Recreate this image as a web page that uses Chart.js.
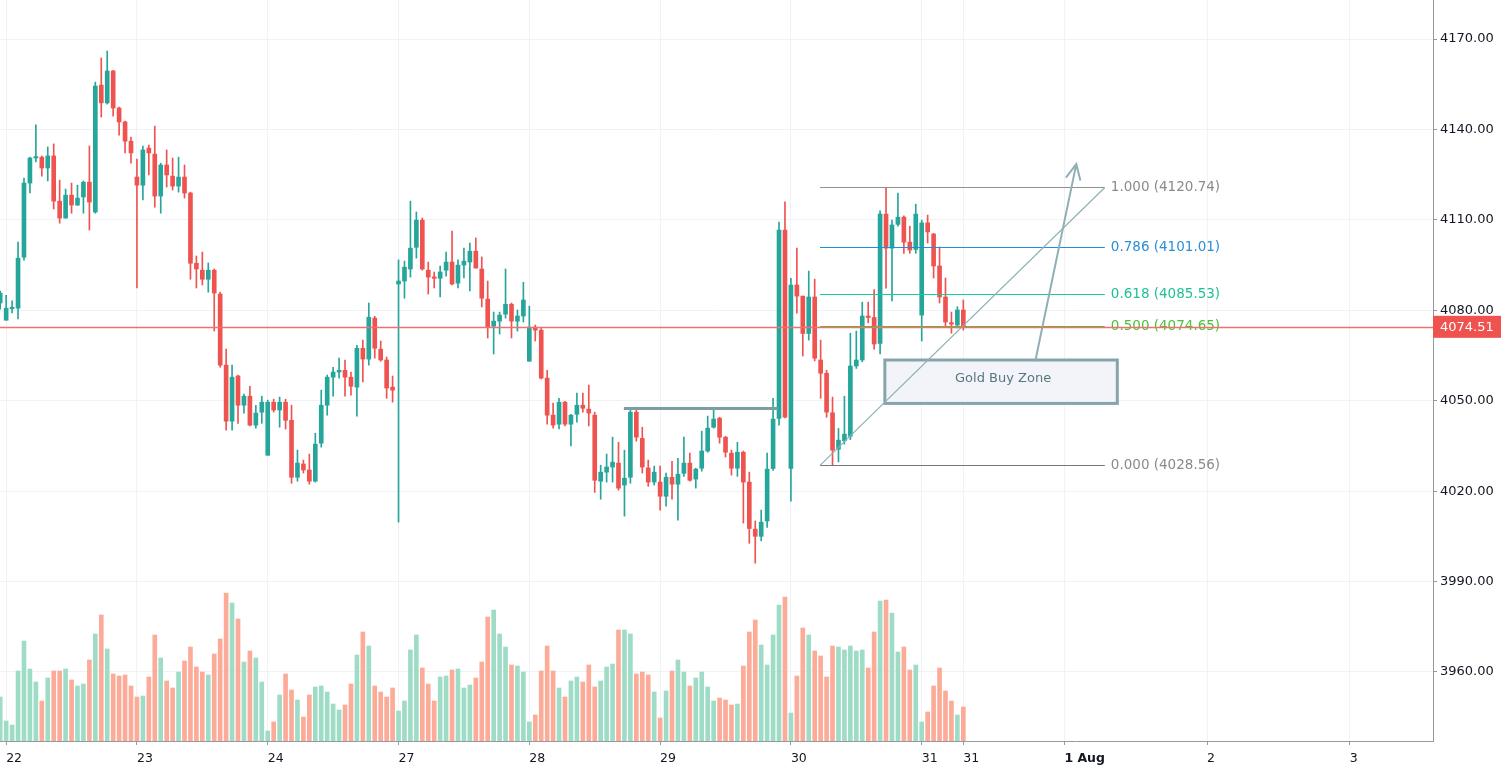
<!DOCTYPE html>
<html>
<head>
<meta charset="utf-8">
<title>Gold 1h</title>
<script src="https://cdn.jsdelivr.net/npm/chart.js@4.4.2/dist/chart.umd.min.js"></script>
<style>
  html, body { margin: 0; padding: 0; background: #ffffff; }
  #wrap { width: 1502px; height: 771px; position: relative; }
</style>
</head>
<body>
<div id="wrap"><canvas id="chart"></canvas></div>
<script>
// hourly candles, one per bar index
const opens = [
  4082.4, 4076.7, 4080.5, 4080.7, 4097.6, 4122.2, 4130.5, 4130.8, 4127.2, 4131.2,
  4116.2, 4110.6, 4118.2, 4114.9, 4117.6, 4122.5, 4112.6, 4154.7, 4148.8, 4159.4,
  4147.1, 4142.5, 4136.1, 4124.2, 4121.5, 4133.8, 4131.8, 4117.9, 4128.2, 4124.5,
  4121.2, 4124.2, 4118.9, 4095.6, 4093.3, 4090.3, 4093.3, 4085.4, 4061.8, 4043.2,
  4058.2, 4048.5, 4051.5, 4041.9, 4046.2, 4031.9, 4049.5, 4046.9, 4049.5, 4043.5,
  4024.6, 4029.0, 4027.0, 4023.3, 4035.9, 4048.5, 4057.8, 4059.5, 4060.1, 4057.8,
  4054.5, 4067.4, 4063.8, 4077.4, 4067.1, 4063.5, 4054.5, 4088.7, 4089.7, 4093.7,
  4100.9, 4109.9, 4093.3, 4091.0, 4090.6, 4093.3, 4096.0, 4089.0, 4095.0, 4096.0,
  4099.6, 4093.7, 4083.7, 4074.7, 4076.4, 4078.7, 4082.0, 4076.4, 4078.1, 4063.1,
  4074.4, 4073.4, 4057.5, 4045.2, 4042.2, 4049.5, 4042.2, 4045.5, 4048.5, 4047.2,
  4045.2, 4023.3, 4026.3, 4028.0, 4029.3, 4022.0, 4024.6, 4046.2, 4037.5, 4027.7,
  4023.0, 4023.0, 4018.3, 4024.6, 4022.3, 4025.9, 4029.3, 4024.0, 4027.6, 4033.3,
  4041.2, 4044.2, 4037.9, 4032.6, 4027.6, 4032.9, 4023.0, 4007.4, 4005.0, 4010.1,
  4027.5, 4044.1, 4106.6, 4027.5, 4088.4, 4084.7, 4072.3, 4084.4, 4063.5, 4059.1,
  4046.0, 4033.9, 4036.7, 4038.2, 4061.5, 4063.5, 4078.1, 4077.6, 4069.0, 4111.9,
  4100.6, 4108.5, 4110.9, 4102.6, 4100.2, 4078.4, 4109.0, 4105.3, 4094.7, 4084.4,
  4075.9, 4075.1, 4080.1
];
const highs = [
  4086.4, 4085.0, 4083.1, 4102.6, 4123.9, 4130.8, 4141.5, 4131.2, 4134.2, 4135.2,
  4123.2, 4120.2, 4122.2, 4121.5, 4122.9, 4134.5, 4155.7, 4163.7, 4166.0, 4159.6,
  4147.4, 4142.8, 4137.5, 4130.2, 4134.5, 4134.8, 4141.1, 4128.8, 4133.2, 4130.5,
  4130.8, 4128.2, 4119.2, 4098.0, 4099.3, 4095.7, 4093.7, 4086.0, 4067.1, 4061.8,
  4058.5, 4052.2, 4054.8, 4048.5, 4051.5, 4050.2, 4050.5, 4051.2, 4050.5, 4048.5,
  4033.6, 4030.3, 4032.3, 4039.2, 4053.5, 4058.5, 4061.1, 4064.1, 4063.5, 4059.5,
  4068.4, 4070.1, 4082.4, 4078.0, 4069.8, 4064.5, 4058.2, 4096.7, 4096.3, 4116.2,
  4112.6, 4110.6, 4096.0, 4092.7, 4094.7, 4099.3, 4106.3, 4096.7, 4100.6, 4102.3,
  4104.0, 4097.7, 4089.7, 4079.4, 4079.4, 4093.7, 4082.4, 4080.1, 4089.3, 4081.4,
  4075.1, 4074.1, 4060.1, 4049.2, 4050.8, 4049.8, 4045.5, 4052.5, 4052.5, 4055.2,
  4046.2, 4028.6, 4032.3, 4037.9, 4036.2, 4033.6, 4047.2, 4046.9, 4041.2, 4030.3,
  4028.3, 4028.3, 4026.0, 4029.9, 4030.9, 4037.9, 4032.6, 4027.6, 4039.9, 4044.9,
  4047.5, 4044.5, 4038.2, 4033.6, 4036.2, 4033.3, 4026.3, 4010.1, 4013.7, 4032.6,
  4050.8, 4109.3, 4116.0, 4090.6, 4100.6, 4084.7, 4093.0, 4090.3, 4070.1, 4060.1,
  4051.2, 4040.8, 4051.5, 4072.4, 4073.1, 4082.7, 4082.7, 4086.9, 4113.0, 4120.7,
  4109.9, 4118.9, 4111.3, 4107.9, 4115.2, 4109.9, 4111.6, 4105.5, 4101.0, 4090.7,
  4079.4, 4081.2, 4083.4
];
const lows = [
  4080.4, 4076.7, 4079.1, 4077.1, 4096.6, 4118.9, 4129.2, 4124.5, 4122.9, 4113.6,
  4108.9, 4110.5, 4112.2, 4114.8, 4112.2, 4106.6, 4112.2, 4144.1, 4148.4, 4144.4,
  4138.1, 4132.2, 4128.8, 4087.4, 4116.6, 4124.9, 4114.2, 4112.2, 4120.9, 4119.9,
  4119.2, 4117.2, 4090.3, 4087.4, 4088.4, 4086.0, 4073.1, 4061.1, 4040.2, 4040.2,
  4042.5, 4045.9, 4041.6, 4040.9, 4042.5, 4031.9, 4046.2, 4041.2, 4040.6, 4022.6,
  4023.3, 4026.0, 4022.3, 4023.0, 4034.6, 4045.2, 4051.5, 4057.5, 4051.5, 4051.8,
  4044.9, 4056.2, 4061.8, 4064.1, 4063.1, 4050.8, 4049.5, 4009.7, 4084.0, 4091.0,
  4097.3, 4093.3, 4085.4, 4087.4, 4084.4, 4091.3, 4088.4, 4087.4, 4090.7, 4086.4,
  4094.0, 4081.1, 4070.8, 4065.5, 4072.1, 4077.4, 4070.8, 4073.1, 4076.1, 4063.1,
  4069.8, 4057.2, 4042.2, 4040.9, 4040.6, 4041.6, 4035.0, 4042.9, 4046.2, 4041.6,
  4019.6, 4017.3, 4023.0, 4023.0, 4020.3, 4011.7, 4022.6, 4036.6, 4026.0, 4021.6,
  4022.0, 4013.7, 4015.0, 4017.3, 4010.4, 4024.9, 4023.3, 4021.0, 4026.6, 4032.9,
  4040.9, 4035.9, 4031.3, 4025.3, 4024.9, 4009.4, 4002.7, 3996.1, 4003.5, 4008.0,
  4026.9, 4041.9, 4044.3, 4016.7, 4079.0, 4064.8, 4070.1, 4063.2, 4050.8, 4044.5,
  4028.6, 4029.7, 4035.6, 4037.1, 4060.7, 4062.9, 4075.8, 4067.1, 4065.5, 4087.3,
  4083.1, 4107.9, 4098.9, 4098.9, 4098.9, 4069.8, 4102.3, 4090.7, 4082.4, 4074.5,
  4072.4, 4074.1, 4073.4
];
const closes = [
  4085.7, 4080.7, 4080.9, 4097.3, 4122.2, 4130.5, 4130.9, 4127.2, 4131.2, 4116.2,
  4110.6, 4118.2, 4114.9, 4117.2, 4122.5, 4115.9, 4154.4, 4148.8, 4159.4, 4147.1,
  4142.5, 4136.1, 4132.2, 4121.5, 4133.2, 4132.2, 4117.9, 4128.2, 4124.9, 4121.2,
  4124.2, 4118.9, 4095.6, 4093.7, 4090.3, 4093.3, 4085.7, 4061.8, 4043.2, 4057.8,
  4048.5, 4051.5, 4041.9, 4045.9, 4049.5, 4049.5, 4046.9, 4049.5, 4043.5, 4024.6,
  4029.3, 4027.0, 4023.3, 4035.6, 4048.5, 4057.8, 4059.5, 4060.1, 4057.8, 4054.8,
  4067.4, 4063.8, 4077.7, 4067.4, 4063.5, 4054.2, 4053.5, 4089.7, 4094.3, 4100.6,
  4109.9, 4093.7, 4091.0, 4090.6, 4092.7, 4096.0, 4088.7, 4095.0, 4096.3, 4099.6,
  4094.0, 4084.0, 4074.4, 4076.4, 4078.4, 4082.0, 4076.4, 4078.1, 4083.4, 4074.4,
  4073.4, 4057.5, 4045.2, 4041.9, 4049.5, 4042.2, 4045.2, 4048.5, 4047.5, 4045.9,
  4023.6, 4026.3, 4028.0, 4029.6, 4021.0, 4024.3, 4046.2, 4037.9, 4028.0, 4023.0,
  4026.3, 4018.3, 4024.6, 4022.3, 4025.6, 4029.3, 4023.6, 4027.3, 4033.3, 4040.9,
  4043.9, 4037.9, 4032.9, 4027.6, 4032.9, 4023.0, 4007.6, 4005.0, 4009.7, 4027.3,
  4043.9, 4106.6, 4044.5, 4088.4, 4084.7, 4072.3, 4084.4, 4064.1, 4059.1, 4046.2,
  4033.6, 4036.9, 4038.9, 4061.5, 4063.5, 4078.1, 4077.6, 4068.8, 4111.9, 4100.6,
  4108.3, 4110.9, 4102.6, 4100.0, 4111.9, 4109.0, 4106.0, 4094.7, 4084.4, 4076.1,
  4075.4, 4080.1, 4074.5
];
// relative volume per bar
const volumes = [
  44, 20, 16, 70, 100, 72, 59, 40, 63, 70,
  70, 72, 61, 55, 57, 81, 107, 126, 92, 67,
  65, 66, 55, 44, 45, 64, 106, 83, 60, 53,
  69, 80, 94, 74, 69, 66, 87, 102, 148, 138,
  122, 79, 90, 83, 59, 10, 19, 46, 67, 51,
  41, 24, 46, 54, 55, 49, 37, 31, 36, 57,
  86, 109, 95, 55, 49, 44, 53, 30, 40, 91,
  106, 73, 57, 40, 64, 65, 71, 72, 53, 56,
  63, 79, 124, 131, 107, 94, 76, 75, 69, 19,
  26, 70, 95, 70, 53, 44, 60, 64, 59, 76,
  54, 60, 74, 77, 111, 111, 107, 67, 69, 66,
  49, 23, 50, 70, 81, 69, 55, 63, 69, 54,
  40, 43, 41, 36, 37, 75, 109, 121, 96, 76,
  106, 136, 144, 28, 65, 113, 106, 90, 85, 64,
  95, 94, 91, 95, 90, 91, 73, 109, 140, 141,
  128, 89, 94, 71, 76, 19, 29, 55, 73, 50,
  40, 26, 34
];

// axis ticks
const dayTicks = [1, 23, 45, 67, 89, 111, 133, 155, 162, 179, 203, 227];
const dayLabels = ['22', '23', '24', '27', '28', '29', '30', '31', '31', '1 Aug', '2', '3'];
const priceTicks = [3960, 3990, 4020, 4050, 4080, 4110, 4140, 4170];
const lastPrice = 4074.51;

// drawings
const fibRatios = [1, 0.786, 0.618, 0.5, 0];
const fibLow = 4028.56;
const fibHigh = 4120.74;
const fibRange = [137.9, 185.8];
const resistance = { from: 104.9, to: 130.8, price: 4047.4 };
const buyZone = { from: 148.8, to: 187.9, top: 4063.5, bottom: 4049.1, text: 'Gold Buy Zone' };
const arrow = { from: [174.1, 4063.1], to: [181.0, 4128.5] };

const UP = '#26a69a';
const DOWN = '#ef5350';
const FONT = '"DejaVu Sans", sans-serif';

const idx = opens.map((_, i) => i);
const candleColors = idx.map(i => closes[i] >= opens[i] ? UP : DOWN);
const volumeColors = idx.map(i => closes[i] >= opens[i] ? '#9fdcc5' : '#fcab98');

const fibStyles = {
  '1': { line: '#909094', text: '#8a8a8e' },
  '0.786': { line: '#1e8fe0', text: '#2b8fd6' },
  '0.618': { line: '#14cf98', text: '#1fc096' },
  '0.5': { line: '#4cc13a', text: '#4cc13a' },
  '0': { line: '#76767b', text: '#8a8a8e' }
};

const drawings = {
  id: 'drawings',
  afterDatasetsDraw(chart) {
    const { ctx, chartArea, scales } = chart;
    const x = scales.x;
    const y = scales.y;
    const px = v => x.getPixelForValue(v);
    const py = v => y.getPixelForValue(v);

    ctx.save();
    ctx.beginPath();
    ctx.rect(chartArea.left, chartArea.top, chartArea.width, chartArea.height);
    ctx.clip();

    // resistance line
    ctx.strokeStyle = '#7c9da2';
    ctx.lineWidth = 3;
    ctx.beginPath();
    ctx.moveTo(px(resistance.from), py(resistance.price));
    ctx.lineTo(px(resistance.to), py(resistance.price));
    ctx.stroke();

    // buy zone
    const zx0 = px(buyZone.from), zx1 = px(buyZone.to);
    const zy0 = py(buyZone.top), zy1 = py(buyZone.bottom);
    ctx.fillStyle = '#f3f4f9';
    ctx.fillRect(zx0, zy0, zx1 - zx0, zy1 - zy0);
    ctx.strokeStyle = '#85a5aa';
    ctx.lineWidth = 3;
    ctx.strokeRect(zx0, zy0, zx1 - zx0, zy1 - zy0);
    ctx.fillStyle = '#56777f';
    ctx.font = '13px ' + FONT;
    ctx.textAlign = 'center';
    ctx.textBaseline = 'middle';
    ctx.fillText(buyZone.text, (zx0 + zx1) / 2 + 2, (zy0 + zy1) / 2 - 3);

    // fib levels
    const fx0 = px(fibRange[0]), fx1 = px(fibRange[1]);
    ctx.lineWidth = 1.2;
    ctx.textAlign = 'left';
    ctx.font = '13.5px ' + FONT;
    fibRatios.forEach(r => {
      const price = fibLow + r * (fibHigh - fibLow);
      const yy = Math.round(py(price)) + 0.5;
      const st = fibStyles[String(r)];
      ctx.strokeStyle = st.line;
      ctx.beginPath();
      ctx.moveTo(fx0, yy);
      ctx.lineTo(fx1, yy);
      ctx.stroke();
      ctx.fillStyle = st.text;
      ctx.fillText(r.toFixed(3) + ' (' + price.toFixed(2) + ')', fx1 + 6, yy);
    });

    // fib trend line
    ctx.strokeStyle = '#8fb0b5';
    ctx.lineWidth = 1.2;
    ctx.beginPath();
    ctx.moveTo(fx0, py(fibLow));
    ctx.lineTo(fx1, py(fibHigh));
    ctx.stroke();

    // arrow
    const ax0 = px(arrow.from[0]), ay0 = py(arrow.from[1]);
    const ax1 = px(arrow.to[0]), ay1 = py(arrow.to[1]);
    const ang = Math.atan2(ay1 - ay0, ax1 - ax0);
    ctx.lineWidth = 2;
    ctx.beginPath();
    ctx.moveTo(ax0, ay0);
    ctx.lineTo(ax1, ay1);
    ctx.moveTo(ax1 - 17 * Math.cos(ang - 0.45), ay1 - 17 * Math.sin(ang - 0.45));
    ctx.lineTo(ax1, ay1);
    ctx.lineTo(ax1 - 17 * Math.cos(ang + 0.45), ay1 - 17 * Math.sin(ang + 0.45));
    ctx.stroke();

    // last price line
    const ly = Math.round(py(lastPrice)) + 0.5;
    ctx.strokeStyle = '#f07070';
    ctx.lineWidth = 1.3;
    ctx.beginPath();
    ctx.moveTo(chartArea.left, ly);
    ctx.lineTo(chartArea.right, ly);
    ctx.stroke();

    ctx.restore();
  },
  afterDraw(chart) {
    const { ctx, chartArea, scales } = chart;
    const ly = scales.y.getPixelForValue(lastPrice);
    ctx.save();
    ctx.fillStyle = DOWN;
    ctx.fillRect(chartArea.right, ly - 11, 68, 22);
    ctx.fillStyle = '#ffffff';
    ctx.font = '13px ' + FONT;
    ctx.textAlign = 'left';
    ctx.textBaseline = 'middle';
    ctx.fillText(lastPrice.toFixed(2), chartArea.right + 7, ly + 1);
    ctx.restore();
  }
};

new Chart(document.getElementById('chart'), {
  type: 'bar',
  data: {
    datasets: [
      {
        label: 'body',
        data: idx.map(i => ({ x: i, y: [opens[i], closes[i]] })),
        backgroundColor: candleColors,
        barThickness: 4,
        minBarLength: 1.5,
        grouped: false,
        order: 1,
        yAxisID: 'y'
      },
      {
        label: 'wick',
        data: idx.map(i => ({ x: i, y: [lows[i], highs[i]] })),
        backgroundColor: candleColors,
        barThickness: 1,
        grouped: false,
        order: 2,
        yAxisID: 'y'
      },
      {
        label: 'volume',
        data: idx.map(i => ({ x: i, y: volumes[i] })),
        backgroundColor: volumeColors,
        barThickness: 4,
        grouped: false,
        order: 3,
        yAxisID: 'yv'
      }
    ]
  },
  options: {
    animation: false,
    responsive: true,
    maintainAspectRatio: false,
    devicePixelRatio: 1,
    events: [],
    layout: { padding: 0 },
    plugins: {
      legend: { display: false },
      tooltip: { enabled: false }
    },
    scales: {
      x: {
        type: 'linear',
        min: -0.034,
        max: 241.0,
        offset: false,
        afterBuildTicks: scale => {
          scale.ticks = dayTicks.map(v => ({ value: v }));
        },
        afterFit: scale => {
          scale.height = 30;
          scale.paddingLeft = 0;
          scale.paddingRight = 0;
        },
        grid: {
          offset: false,
          color: '#f1f2f5',
          tickColor: '#9598a1',
          tickLength: 4
        },
        border: { display: true, color: '#9598a1' },
        ticks: {
          align: 'start',
          padding: 6,
          maxRotation: 0,
          autoSkip: false,
          color: '#131722',
          font: ctx => ({
            family: FONT,
            size: 12.5,
            weight: ctx.tick && ctx.tick.label === '1 Aug' ? 'bold' : 'normal'
          }),
          callback: (value, index) => dayLabels[index]
        }
      },
      y: {
        position: 'right',
        min: 3937.1,
        max: 4182.94,
        afterBuildTicks: scale => {
          scale.ticks = priceTicks.map(v => ({ value: v }));
        },
        afterFit: scale => {
          scale.width = 69;
          scale.paddingTop = 0;
          scale.paddingBottom = 0;
        },
        grid: {
          color: '#f1f2f5',
          tickColor: '#9598a1',
          tickLength: 4
        },
        border: { display: true, color: '#9598a1' },
        ticks: {
          padding: 3,
          color: '#131722',
          font: { family: FONT, size: 13 },
          callback: value => value.toFixed(2)
        }
      },
      yv: {
        display: false,
        min: 0,
        max: 741
      }
    }
  },
  plugins: [drawings]
});
</script>
</body>
</html>
